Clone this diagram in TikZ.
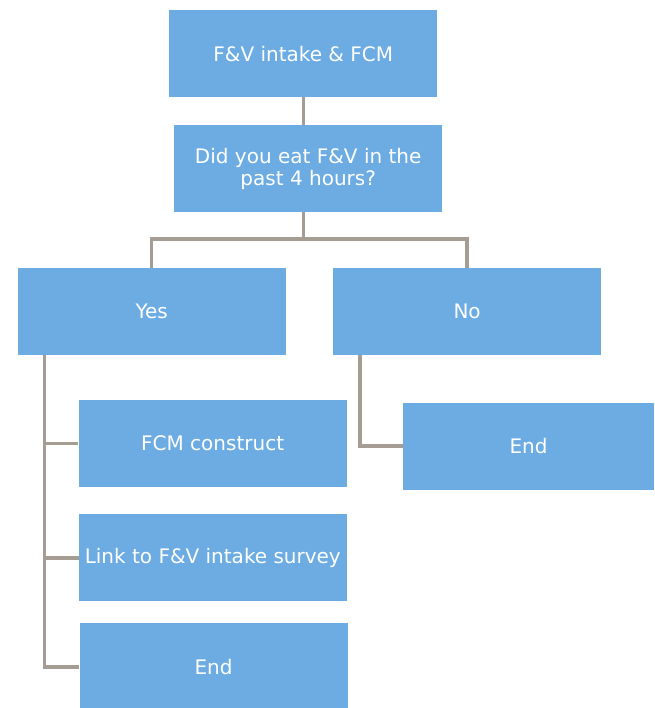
\documentclass[tikz,border=0pt]{standalone}
\usepackage{fontspec}
\setmainfont{DejaVu Sans}
\definecolor{boxblue}{RGB}{108,172,227}
\definecolor{linegray}{RGB}{165,156,148}
\begin{document}
\begin{tikzpicture}[x=1pt,y=-1pt,
  box/.style={fill=boxblue, text=white, inner sep=0pt, align=center,
    minimum width=268pt, minimum height=87pt,
    font=\fontsize{20}{22}\selectfont},
  conn/.style={draw=linegray, line width=3.5pt}]
\useasboundingbox (0,0) rectangle (654,708);
\node[box] (top) at (303.3,53.7) {F\&V intake \& FCM};
\node[box] (q) at (308.2,168.7) {Did you eat F\&V in the\\past 4 hours?};
\node[box] (yes) at (151.7,311.3) {Yes};
\node[box] (no) at (467.1,311.3) {No};
\node[box] (fcm) at (212.6,443.3) {FCM construct};
\node[box, minimum width=251pt] (endR) at (528.5,446) {End};
\node[box] (link) at (212.8,557.8) {Link to F\&V intake survey};
\node[box] (endL) at (213.5,666.8) {End};
\coordinate (split) at (303.3,239);
\draw[conn] (top.south) -- (top.south |- q.north);
\draw[conn] (top.south |- q.south) -- (split);
\draw[conn] (yes.north) |- (split) -| (no.north);
\draw[conn] ([xshift=27pt]yes.south west) |- (fcm.west);
\draw[conn] ([xshift=27pt]yes.south west) |- (link.west);
\draw[conn] ([xshift=27pt]yes.south west) |- (endL.west);
\draw[conn] ([xshift=27pt]no.south west) |- (endR.west);
\end{tikzpicture}
\end{document}
